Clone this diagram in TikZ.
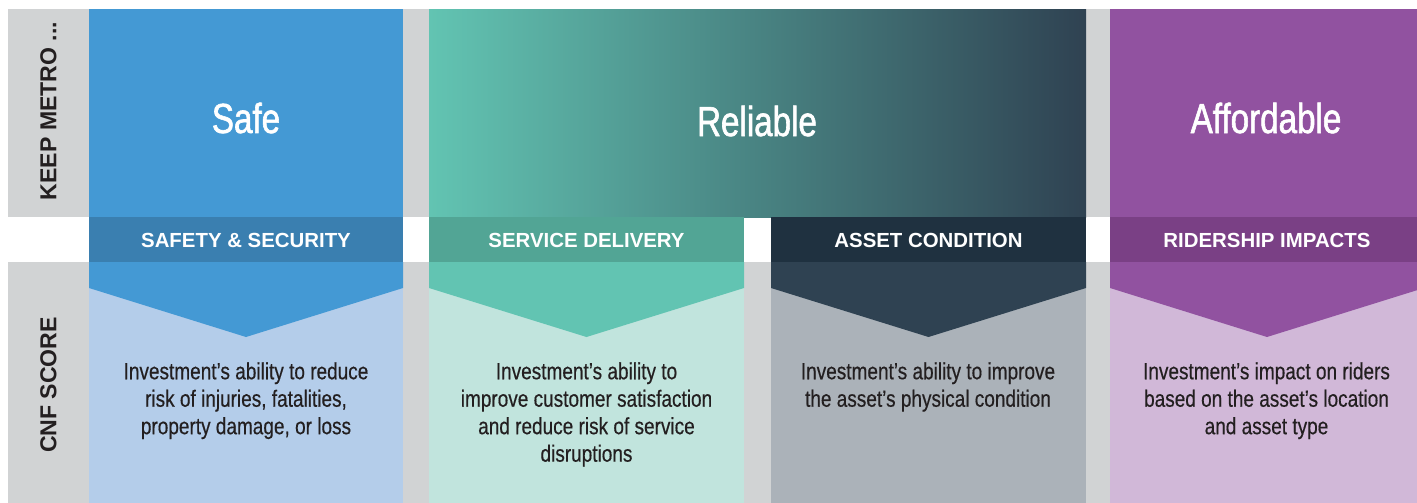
\documentclass[tikz,border=0pt]{standalone}
\usepackage{fontspec}
\setmainfont{Liberation Sans}
\newfontfamily\narrowfont[FakeStretch=0.81, FakeBold=0.4]{Liberation Sans}
\newfontfamily\goalfont[FakeStretch=0.79, FakeBold=1.4]{Liberation Sans}
\definecolor{panelgray}{RGB}{209,211,212}
\definecolor{textdark}{RGB}{35,31,32}
\definecolor{safeblue}{RGB}{68,153,212}
\definecolor{safehead}{RGB}{58,127,176}
\definecolor{safelight}{RGB}{180,205,234}
\definecolor{servteal}{RGB}{98,196,178}
\definecolor{servhead}{RGB}{82,165,149}
\definecolor{servlight}{RGB}{193,228,221}
\definecolor{tealmid}{RGB}{78,152,140}
\definecolor{assetslate}{RGB}{47,66,82}
\definecolor{assethead}{RGB}{31,49,64}
\definecolor{assetlight}{RGB}{171,178,185}
\definecolor{ridepurple}{RGB}{145,82,160}
\definecolor{ridehead}{RGB}{122,64,133}
\definecolor{ridelight}{RGB}{209,184,216}

\begin{document}
\begin{tikzpicture}[x=0.75pt, y=-0.75pt,
        side/.style={rotate=90, text=textdark, inner sep=0pt, font=\bfseries\fontsize{17.3}{20}\selectfont},
        goal/.style={text=white, inner sep=0pt, font=\goalfont\fontsize{31.5}{36}\selectfont},
        crit/.style={text=white, inner sep=0pt, font=\bfseries\fontsize{15.3}{18}\selectfont},
        desc/.style={text=textdark, align=center, anchor=north, inner sep=0pt, font=\narrowfont\fontsize{17.6}{20.6}\selectfont}
    ]
    \useasboundingbox (0,0) rectangle (1417,503);

    % grey frame and the white band for the criteria
    \fill[panelgray] (8,9) rectangle (1417,503);
    \fill[white] (8,217) rectangle (1417,262);

    % goals
    \fill[safeblue] (89,9.5) rectangle (403,217);
    \shade[left color=servteal, middle color=tealmid, right color=assetslate] (429,9.5) rectangle (1086,217);
    \fill[ridepurple] (1110,9.5) rectangle (1424,217);

    % criteria bars
    \fill[safehead] (89,217) rectangle (403,262);
    \fill[servhead] (429,217) rectangle (744,262);
    \fill[assethead] (771,217) rectangle (1086,262);
    \fill[ridehead] (1110,217) rectangle (1424,262);

    % score panels with their chevrons
    \fill[safelight] (89,262) rectangle (403,503);
    \fill[safeblue] (89,262) -- (403,262) -- (403,288) -- (246,337) -- (89,288) -- cycle;
    \fill[servlight] (429,262) rectangle (744,503);
    \fill[servteal] (429,262) -- (744,262) -- (744,288) -- (586.5,337) -- (429,288) -- cycle;
    \fill[assetlight] (771,262) rectangle (1086,503);
    \fill[assetslate] (771,262) -- (1086,262) -- (1086,288) -- (928.5,337) -- (771,288) -- cycle;
    \fill[ridelight] (1110,262) rectangle (1424,503);
    \fill[ridepurple] (1110,262) -- (1424,262) -- (1424,288) -- (1267,337) -- (1110,288) -- cycle;

    \node[side] (keep) at (48.5,111) {KEEP METRO ...};
    \node[side] (cnf) at (48.5,385) {CNF SCORE};

    \node[goal] (safe) at (246,118) {Safe};
    \node[goal] (reliable) at (757,121) {Reliable};
    \node[goal] (affordable) at (1266,118) {Affordable};

    \node[crit] (safety) at (246,240.5) {SAFETY \& SECURITY};
    \node[crit] (service) at (586.5,240.5) {SERVICE DELIVERY};
    \node[crit] (asset) at (928.5,240.5) {ASSET CONDITION};
    \node[crit] (ridership) at (1267,240.5) {RIDERSHIP IMPACTS};

    \node[desc] (safetytext) at (246,362) {Investment’s ability to reduce\\risk of injuries, fatalities,\\property damage, or loss};
    \node[desc] (servicetext) at (586.5,362) {Investment’s ability to\\improve customer satisfaction\\and reduce risk of service\\disruptions};
    \node[desc] (assettext) at (928,362) {Investment’s ability to improve\\the asset’s physical condition};
    \node[desc] (ridershiptext) at (1266.5,362) {Investment’s impact on riders\\based on the asset’s location\\and asset type};
\end{tikzpicture}
\end{document}
